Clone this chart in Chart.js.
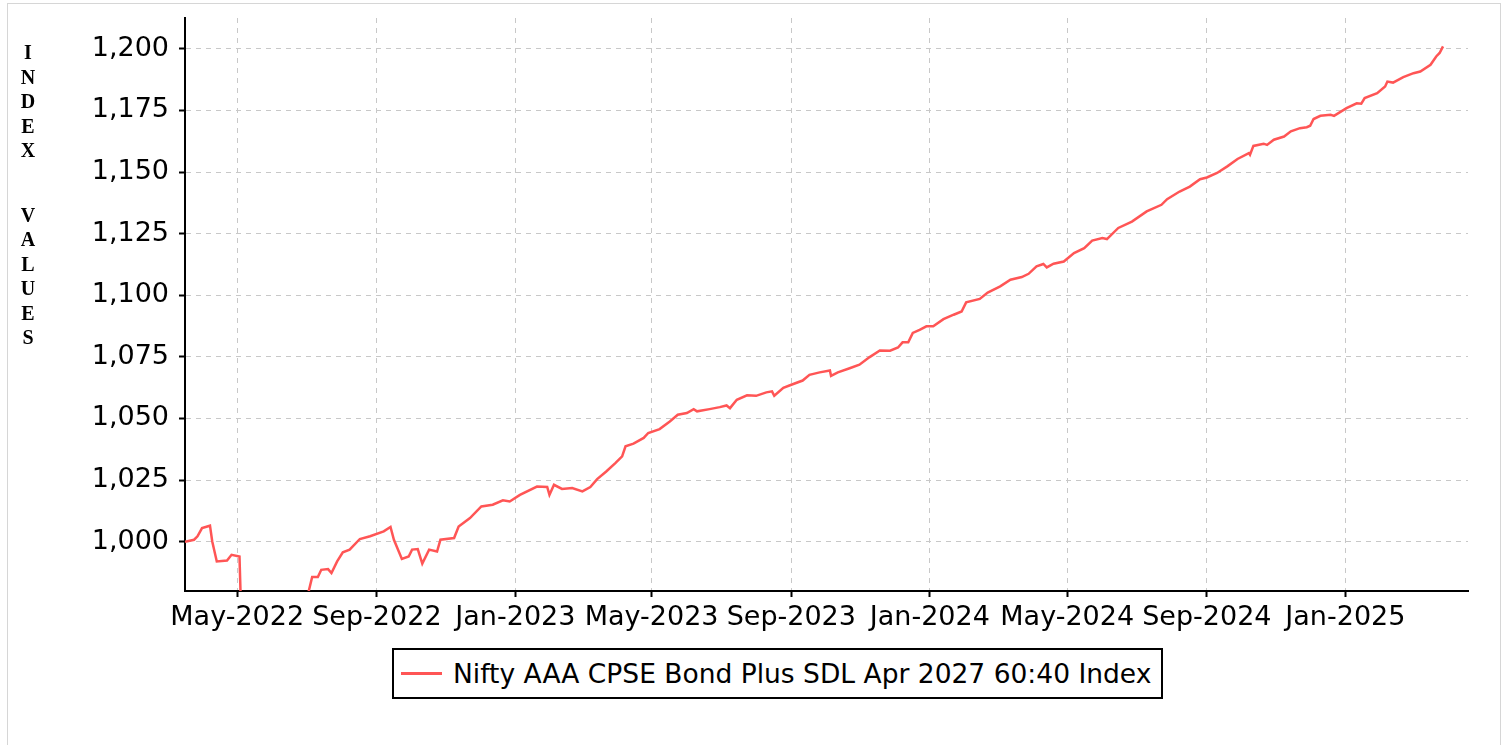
<!DOCTYPE html>
<html lang="en">
<head>
    <meta charset="UTF-8">
    <title>Nifty AAA CPSE Bond Plus SDL Apr 2027 60:40 Index</title>
    <script src="https://cdn.jsdelivr.net/npm/chart.js"></script>
    <style>
        body, html {
            margin: 0;
            padding: 0;
            background: #fff;
            font-family: "DejaVu Sans", sans-serif;
        }

        /* light frame around the chart */
        .frame {
            position: absolute;
            left: 7px;
            top: 3px;
            width: 1494px;
            height: 800px;
            box-sizing: border-box;
            border: 1px solid #d6d6d6;
        }

        #indexChart {
            position: absolute;
            left: 0;
            top: 0;
        }

        /* stacked y axis title */
        .y-title {
            position: absolute;
            left: 18px;
            top: 40px;
            width: 20px;
            text-align: center;
            font-family: "Liberation Serif", "Times New Roman", serif;
            font-weight: bold;
            font-size: 20px;
            line-height: 24.5px;
            color: #000;
        }
        .y-title .gap {
            height: 40px;
        }

        .legend {
            position: absolute;
            left: 392px;
            top: 648px;
            width: 771px;
            height: 51px;
            box-sizing: border-box;
            border: 2px solid #000;
            display: flex;
            align-items: center;
            font-size: 26.5px;
            color: #000;
            white-space: nowrap;
        }
        .legend .swatch {
            display: inline-block;
            width: 41px;
            height: 3px;
            margin-left: 7px;
            margin-right: 11px;
            background: #ff5555;
        }
    </style>
</head>
<body>

    <div class="frame"></div>

    <canvas id="indexChart" width="1506" height="640"></canvas>

    <div class="y-title">
        <div>I</div><div>N</div><div>D</div><div>E</div><div>X</div>
        <div class="gap"></div>
        <div>V</div><div>A</div><div>L</div><div>U</div><div>E</div><div>S</div>
    </div>

    <div class="legend"><span class="swatch"></span><span>Nifty AAA CPSE Bond Plus SDL Apr 2027 60:40 Index</span></div>

    <script>
        // series (May-Jun 2022 values sit below the visible range)
        const seriesName = 'Nifty AAA CPSE Bond Plus SDL Apr 2027 60:40 Index';

        const dates = [
            '2022-03-16', '2022-03-24', '2022-03-27', '2022-03-31', '2022-04-07', '2022-04-09', '2022-04-13', '2022-04-22',
            '2022-04-26', '2022-05-03', '2022-05-04', '2022-05-12', '2022-05-24', '2022-06-06', '2022-06-16', '2022-06-27',
            '2022-07-03', '2022-07-06', '2022-07-11', '2022-07-14', '2022-07-20', '2022-07-23', '2022-07-28', '2022-08-02',
            '2022-08-08', '2022-08-17', '2022-08-26', '2022-09-07', '2022-09-13', '2022-09-16', '2022-09-23', '2022-09-29',
            '2022-10-02', '2022-10-07', '2022-10-11', '2022-10-17', '2022-10-24', '2022-10-27', '2022-11-08', '2022-11-12',
            '2022-11-22', '2022-12-02', '2022-12-12', '2022-12-21', '2022-12-27', '2023-01-05', '2023-01-20', '2023-01-29',
            '2023-01-31', '2023-02-04', '2023-02-11', '2023-02-20', '2023-03-01', '2023-03-08', '2023-03-14', '2023-03-22',
            '2023-03-30', '2023-04-05', '2023-04-08', '2023-04-15', '2023-04-24', '2023-04-28', '2023-05-08', '2023-05-17',
            '2023-05-24', '2023-06-01', '2023-06-07', '2023-06-10', '2023-06-21', '2023-06-30', '2023-07-06', '2023-07-09',
            '2023-07-15', '2023-07-24', '2023-08-01', '2023-08-10', '2023-08-15', '2023-08-17', '2023-08-25', '2023-09-01',
            '2023-09-11', '2023-09-17', '2023-09-26', '2023-10-05', '2023-10-06', '2023-10-12', '2023-10-23', '2023-10-31',
            '2023-11-09', '2023-11-18', '2023-11-27', '2023-12-04', '2023-12-08', '2023-12-13', '2023-12-17', '2023-12-23',
            '2023-12-29', '2024-01-04', '2024-01-13', '2024-01-22', '2024-01-29', '2024-02-02', '2024-02-14', '2024-02-21',
            '2024-03-03', '2024-03-12', '2024-03-22', '2024-03-28', '2024-04-04', '2024-04-10', '2024-04-13', '2024-04-19',
            '2024-04-28', '2024-05-07', '2024-05-16', '2024-05-23', '2024-06-01', '2024-06-05', '2024-06-15', '2024-06-27',
            '2024-07-10', '2024-07-23', '2024-07-28', '2024-08-08', '2024-08-17', '2024-08-26', '2024-09-01', '2024-09-10',
            '2024-09-19', '2024-09-28', '2024-10-08', '2024-10-09', '2024-10-12', '2024-10-21', '2024-10-24', '2024-10-30',
            '2024-11-08', '2024-11-14', '2024-11-22', '2024-11-28', '2024-12-01', '2024-12-04', '2024-12-10', '2024-12-19',
            '2024-12-22', '2025-01-02', '2025-01-11', '2025-01-15', '2025-01-18', '2025-01-29', '2025-02-05', '2025-02-07',
            '2025-02-12', '2025-02-21', '2025-03-02', '2025-03-08', '2025-03-17', '2025-03-22', '2025-03-25', '2025-03-28'
        ];

        const values = [
            1000.0, 1000.8, 1002.2, 1005.5, 1006.5, 1000.1, 992.0, 992.4,
            994.7, 994.0, 978.0, 974.5, 976.0, 973.0, 971.5, 975.0,
            980.0, 985.7, 985.7, 988.6, 988.9, 987.3, 992.0, 995.7,
            996.8, 1001.1, 1002.2, 1004.2, 1006.0, 1000.8, 993.0, 994.0,
            996.8, 997.0, 991.1, 996.8, 996.0, 1000.8, 1001.5, 1006.2,
            1009.6, 1014.3, 1015.0, 1016.8, 1016.3, 1019.0, 1022.4, 1022.2,
            1019.0, 1023.1, 1021.4, 1021.8, 1020.4, 1022.2, 1025.4, 1028.5,
            1031.9, 1034.6, 1038.7, 1039.8, 1042.1, 1044.1, 1045.7, 1048.8,
            1051.5, 1052.2, 1053.8, 1052.9, 1053.8, 1054.6, 1055.3, 1054.2,
            1057.6, 1059.4, 1059.2, 1060.6, 1061.0, 1059.2, 1062.4, 1063.7,
            1065.4, 1067.7, 1068.7, 1069.5, 1067.3, 1068.7, 1070.5, 1071.8,
            1074.9, 1077.6, 1077.5, 1078.8, 1080.9, 1080.9, 1084.7, 1086.0,
            1087.4, 1087.4, 1090.3, 1092.1, 1093.4, 1097.1, 1098.5, 1101.1,
            1103.6, 1106.3, 1107.4, 1108.7, 1111.7, 1112.7, 1111.3, 1112.8,
            1113.7, 1117.1, 1119.1, 1122.2, 1123.2, 1122.8, 1127.3, 1129.9,
            1134.0, 1136.7, 1139.0, 1142.1, 1144.1, 1147.1, 1147.8, 1149.6,
            1152.3, 1155.3, 1157.7, 1157.0, 1160.6, 1161.5, 1161.0, 1163.1,
            1164.4, 1166.5, 1167.8, 1168.2, 1168.8, 1171.5, 1172.8, 1173.2,
            1172.8, 1175.9, 1177.9, 1177.7, 1180.0, 1182.0, 1184.7, 1186.7,
            1186.3, 1188.5, 1190.1, 1190.8, 1193.5, 1196.9, 1198.3, 1201.0
        ];

        // axis ticks
        const xTickDates = ['2022-05-01', '2022-09-01', '2023-01-01', '2023-05-01', '2023-09-01',
                            '2024-01-01', '2024-05-01', '2024-09-01', '2025-01-01'];
        const yTickValues = [1000, 1025, 1050, 1075, 1100, 1125, 1150, 1175, 1200];
        const xRange = ['2022-03-16', '2025-04-19'];
        const yRange = [980, 1212.5];

        const monthNames = ['Jan', 'Feb', 'Mar', 'Apr', 'May', 'Jun', 'Jul', 'Aug', 'Sep', 'Oct', 'Nov', 'Dec'];

        function toTs(s) {
            const p = s.split('-');
            return Date.UTC(+p[0], +p[1] - 1, +p[2]);
        }

        function monthLabel(ts) {
            const d = new Date(ts);
            return monthNames[d.getUTCMonth()] + '-' + d.getUTCFullYear();
        }

        const points = dates.map((d, i) => ({ x: toTs(d), y: values[i] }));

        const tickFont = { family: '"DejaVu Sans", sans-serif', size: 27 };

        new Chart(document.getElementById('indexChart').getContext('2d'), {
            type: 'line',
            data: {
                datasets: [{
                    label: seriesName,
                    data: points,
                    borderColor: '#ff5555',
                    backgroundColor: '#ff5555',
                    borderWidth: 2.5,
                    pointRadius: 0,
                    tension: 0,
                    fill: false
                }]
            },
            options: {
                responsive: false,
                animation: false,
                devicePixelRatio: 1,
                layout: { padding: { top: 18, right: 38, left: 0, bottom: 0 } },
                plugins: {
                    legend: { display: false },
                    tooltip: { enabled: false }
                },
                scales: {
                    x: {
                        type: 'linear',
                        min: toTs(xRange[0]),
                        max: toTs(xRange[1]),
                        afterBuildTicks: (scale) => {
                            scale.ticks = xTickDates.map(d => ({ value: toTs(d) }));
                        },
                        afterFit: (scale) => {
                            scale.height = 49;
                            scale.paddingLeft = 0;
                            scale.paddingRight = 0;
                        },
                        ticks: {
                            autoSkip: false,
                            maxRotation: 0,
                            padding: 5,
                            color: '#000',
                            font: tickFont,
                            callback: (v) => monthLabel(v)
                        },
                        grid: {
                            color: '#c8c8c8',
                            lineWidth: 1,
                            tickColor: '#000',
                            tickWidth: 2,
                            tickLength: 6
                        },
                        border: { color: '#000', width: 2, dash: [5, 5] }
                    },
                    y: {
                        type: 'linear',
                        min: yRange[0],
                        max: yRange[1],
                        afterBuildTicks: (scale) => {
                            scale.ticks = yTickValues.map(v => ({ value: v }));
                        },
                        afterFit: (scale) => {
                            scale.width = 185;
                            scale.paddingTop = 0;
                            scale.paddingBottom = 0;
                        },
                        ticks: {
                            padding: 10,
                            color: '#000',
                            font: tickFont,
                            callback: (v) => v.toLocaleString('en-US')
                        },
                        grid: {
                            color: '#c8c8c8',
                            lineWidth: 1,
                            tickColor: '#000',
                            tickWidth: 2,
                            tickLength: 6
                        },
                        border: { color: '#000', width: 2, dash: [5, 5] }
                    }
                }
            }
        });
    </script>

</body>
</html>
